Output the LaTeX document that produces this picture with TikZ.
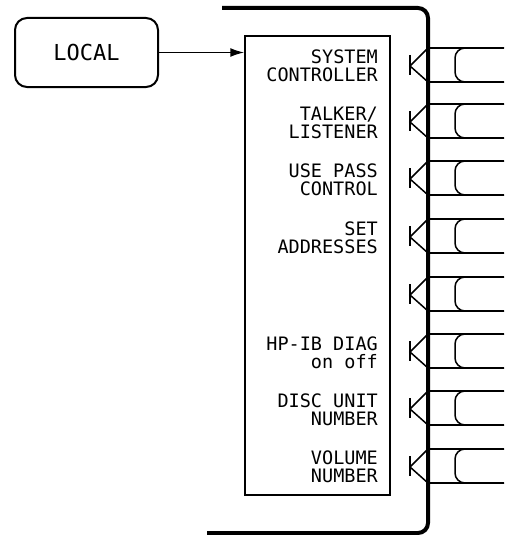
\documentclass[tikz,border=0pt]{standalone}
\usepackage{fontspec}
\newfontfamily\hpfont{DejaVu Sans Mono}
\usetikzlibrary{arrows.meta}
\tikzset{
  panel/.style={line width=4pt, rounded corners=10pt},
  localbox/.style={draw, line width=2pt, rounded corners=12pt, minimum width=143pt, minimum height=69pt, font=\hpfont\fontsize{22}{22}\selectfont},
  innerbox/.style={draw, line width=1.5pt},
  lbl/.style={anchor=east, align=right, inner sep=0pt, font=\hpfont\fontsize{18.5}{18}\selectfont},
  conn/.style={line width=1.5pt},
  plug/.style={line width=1.5pt, rounded corners=10pt},
  feed/.style={line width=1.6pt, -{Latex[length=14pt,width=9pt]}}
}
\begin{document}
\begin{tikzpicture}[x=1pt,y=-1pt]
\useasboundingbox (0,0) rectangle (504,535);
\clip (0,0) rectangle (504,535);
% outer panel
\draw[panel] (222,8) -- (428,8) -- (428,533) -- (207,533);
% LOCAL box
\node[localbox] (local) at (86.5,52.5) {LOCAL};
% inner box
\node[innerbox, minimum width=145pt, minimum height=459pt, inner sep=0pt] (inner) at (317.5,265.5) {};
\coordinate (inw) at (inner.west |- local.east);
\draw[feed] (local.east) -- (inw);
% labels
\node[lbl] (l1) at (378,66) {SYSTEM\\CONTROLLER};
\node[lbl] (l2) at (378,123) {TALKER/\\LISTENER};
\node[lbl] (l3) at (378,180) {USE PASS\\CONTROL};
\node[lbl] (l4) at (378,238) {SET\\ADDRESSES};
\node[lbl] (l6) at (378,353) {HP-IB DIAG\\on off};
\node[lbl] (l7) at (378,410) {DISC UNIT\\NUMBER};
\node[lbl] (l8) at (378,467) {VOLUME\\NUMBER};
% connectors
\foreach \c in {65,121,178,236,294,351,408,466}{
  \draw[conn] (410,\c-10) -- (410,\c+10);
  \draw[conn] (428,\c-17) -- (410,\c+1) -- (428,\c+17);
  \draw[conn] (428,\c-17) -- (504,\c-17);
  \draw[conn] (428,\c+17) -- (504,\c+17);
  \draw[plug] (530,\c-17) -- (455,\c-17) -- (455,\c+17) -- (530,\c+17);
}
\end{tikzpicture}
\end{document}
